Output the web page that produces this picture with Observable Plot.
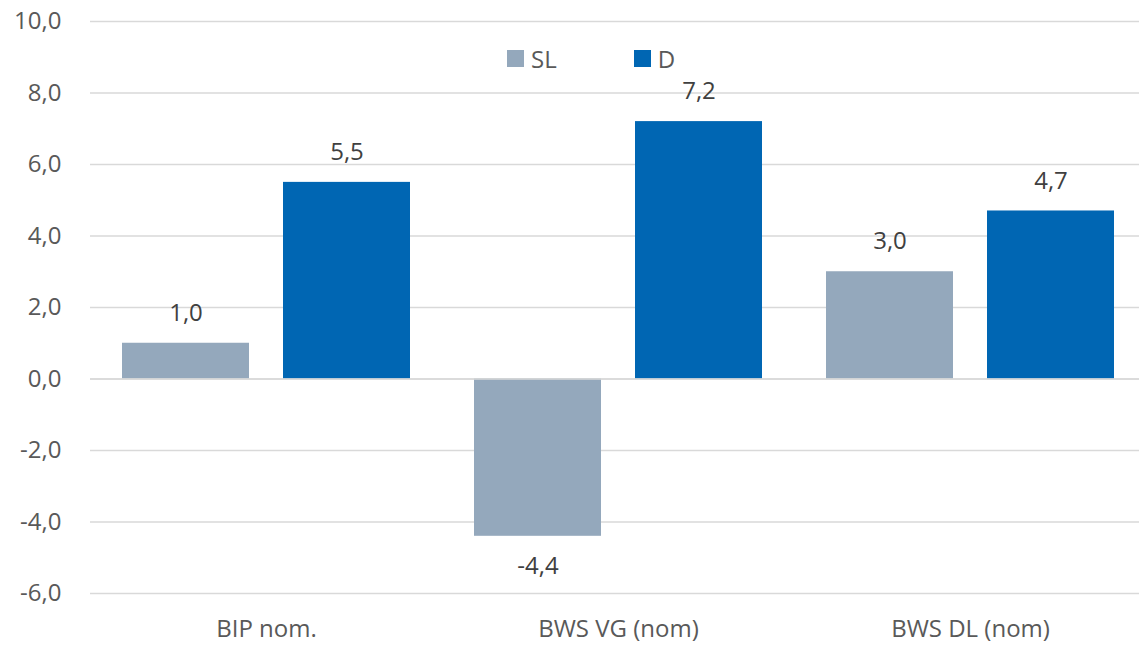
<!DOCTYPE html>
<html>
<head>
<meta charset="utf-8">
<script src="https://cdn.jsdelivr.net/npm/d3@7"></script>
<script src="https://cdn.jsdelivr.net/npm/@observablehq/plot@0.6"></script>
<style>
  body { margin: 0; background: #fff; font-family: "Open Sans", sans-serif; }
  #wrap { position: relative; width: 1139px; height: 645px; overflow: hidden; }
  #legend { position: absolute; top: 42px; left: 507px; display: flex; align-items: center; font-size: 24px; color: #595959; }
  .sw { display: inline-block; width: 17px; height: 17px; margin-right: 7px; }
  .item { display: flex; align-items: center; margin-right: 77px; }
</style>
</head>
<body>
<div id="wrap"></div>
<script>
const categories = ["BIP nom.", "BWS VG (nom)", "BWS DL (nom)"];
const seriesNames = ["SL", "D"];
const seriesColors = ["#94A8BC", "#0066B3"];
const valuesSL = [1.0, -4.4, 3.0];
const valuesD = [5.5, 7.2, 4.7];
const yTicks = [-6, -4, -2, 0, 2, 4, 6, 8, 10];

const data = [];
categories.forEach((c, i) => {
  data.push({cat: c, series: "SL", value: valuesSL[i]});
  data.push({cat: c, series: "D", value: valuesD[i]});
});
const fmt = v => v.toFixed(1).replace(".", ",");

const chart = Plot.plot({
  width: 1139,
  height: 645,
  marginLeft: 89,
  marginRight: -8,
  marginTop: 21,
  marginBottom: 52,
  style: {fontFamily: "Open Sans, sans-serif", fontSize: "24px", color: "#595959", background: "#fff", overflow: "hidden"},
  fx: {domain: categories, padding: 0, label: null},
  x: {domain: seriesNames, paddingInner: 0.21, paddingOuter: 0.197, axis: null},
  y: {domain: [-6, 10], axis: null},
  color: {domain: seriesNames, range: seriesColors},
  marks: [
    Plot.gridY(yTicks, {stroke: "#d9d9d9", strokeOpacity: 1, strokeWidth: 1.3}),
    Plot.barY(data, {fx: "cat", x: "series", y: "value", fill: "series"}),
    Plot.ruleY([0], {stroke: "#d9d9d9", strokeWidth: 1.5}),
    Plot.text(data.filter(d => d.value >= 0), {fx: "cat", x: "series", y: "value", text: d => fmt(d.value), dy: -30, fill: "#404040", fontSize: 24}),
    Plot.text(data.filter(d => d.value < 0), {fx: "cat", x: "series", y: "value", text: d => fmt(d.value), dy: 30, fill: "#404040", fontSize: 24}),
    Plot.axisY({ticks: yTicks, tickSize: 0, tickPadding: 29, tickFormat: fmt, label: null, fill: "#595959", fontSize: 24}),
    Plot.axisFx({anchor: "bottom", tickSize: 0, tickPadding: 26, label: null, fill: "#595959", fontSize: 24})
  ]
});
const wrap = document.getElementById("wrap");
wrap.appendChild(chart);

const legend = document.createElement("div");
legend.id = "legend";
seriesNames.forEach((s, i) => {
  const it = document.createElement("div");
  it.className = "item";
  const sw = document.createElement("span");
  sw.className = "sw";
  sw.style.background = seriesColors[i];
  const t = document.createElement("span");
  t.textContent = s;
  it.appendChild(sw); it.appendChild(t);
  legend.appendChild(it);
});
wrap.appendChild(legend);
</script>
</body>
</html>
